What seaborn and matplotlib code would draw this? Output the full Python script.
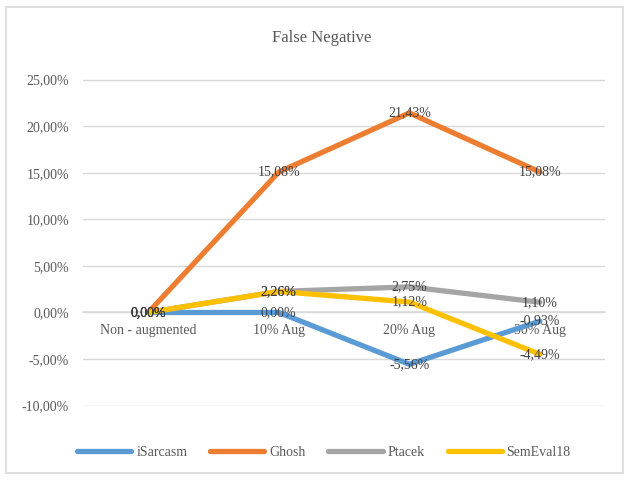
import numpy as np
import pandas as pd
import matplotlib
matplotlib.use('Agg')
import matplotlib.pyplot as plt
import seaborn as sns
from matplotlib.patches import Rectangle

# Data
categories = ['Non - augmented', '10% Aug', '20% Aug', '30% Aug']
isarcasm = [0.00, 0.00, -5.56, -0.93]
ghosh = [0.00, 15.08, 21.43, 15.08]
ptacek = [0.00, 2.26, 2.75, 1.10]
semeval = [0.00, 2.26, 1.12, -4.49]
series_names = ['iSarcasm', 'Ghosh', 'Ptacek', 'SemEval18']
colors = ['#5B9BD5', '#ED7D31', '#A5A5A5', '#FFC000']
yticks = [-10, -5, 0, 5, 10, 15, 20, 25]

# Long form table
rows = []
for name, vals in zip(series_names, [isarcasm, ghosh, ptacek, semeval]):
    for i, v in enumerate(vals):
        rows.append({'pos': i, 'Category': categories[i], 'Series': name, 'Value': v})
df = pd.DataFrame(rows)

sns.set_style('white')
plt.rcParams['font.family'] = ['Liberation Serif', 'DejaVu Serif']
text_col = '#595959'

fig = plt.figure(figsize=(6.29, 4.8), dpi=100)
ax = fig.add_axes([0.132, 0.154, 0.830, 0.681])

sns.lineplot(data=df, x='pos', y='Value', hue='Series', hue_order=series_names,
             palette=colors, linewidth=3.8, ax=ax, legend=True, zorder=3)

# data labels
for name, vals in zip(series_names, [isarcasm, ghosh, ptacek, semeval]):
    for i, v in enumerate(vals):
        ax.text(i, v, f'{v:.2f}%'.replace('.', ','), ha='center', va='center',
                fontsize=10, color='#404040', zorder=5)

ax.set_xlim(-0.5, 3.5)
ax.set_ylim(-10.05, 25.05)
ax.set_yticks(yticks)
ax.set_yticklabels([f'{t:.2f}%'.replace('.', ',') for t in yticks])
ax.set_xticks(range(len(categories)))
ax.set_xticklabels(categories)
ax.yaxis.grid(True, color='#D9D9D9', linewidth=1)
ax.set_axisbelow(True)
for s in ['top', 'right', 'left']:
    ax.spines[s].set_visible(False)
ax.spines['bottom'].set_position(('data', 0))
ax.spines['bottom'].set_color('#D9D9D9')
ax.spines['bottom'].set_linewidth(1.2)
ax.tick_params(axis='both', length=0, labelsize=10, labelcolor=text_col)
ax.tick_params(axis='y', pad=10)
ax.tick_params(axis='x', pad=8)
ax.set_xlabel('')
ax.set_ylabel('')

fig.text(0.512, 1 - 38 / 480, 'False Negative', fontsize=12, color=text_col,
         ha='center', va='center')

handles, labels = ax.get_legend_handles_labels()
ax.get_legend().remove()
leg = fig.legend(handles, labels, loc='center', bbox_to_anchor=(0.515, 1 - 452 / 480),
                 ncol=4, frameon=False, fontsize=10, handlelength=3.9,
                 columnspacing=1.65, handletextpad=0.35)
for t in leg.get_texts():
    t.set_color(text_col)
for h in leg.get_lines():
    h.set_linewidth(3.8)

fig.patches.append(Rectangle((0.009, 0.014), 0.982, 0.972, transform=fig.transFigure,
                             fill=False, edgecolor='#D9D9D9', linewidth=1.2))

fig.savefig('out.png', dpi=100)
